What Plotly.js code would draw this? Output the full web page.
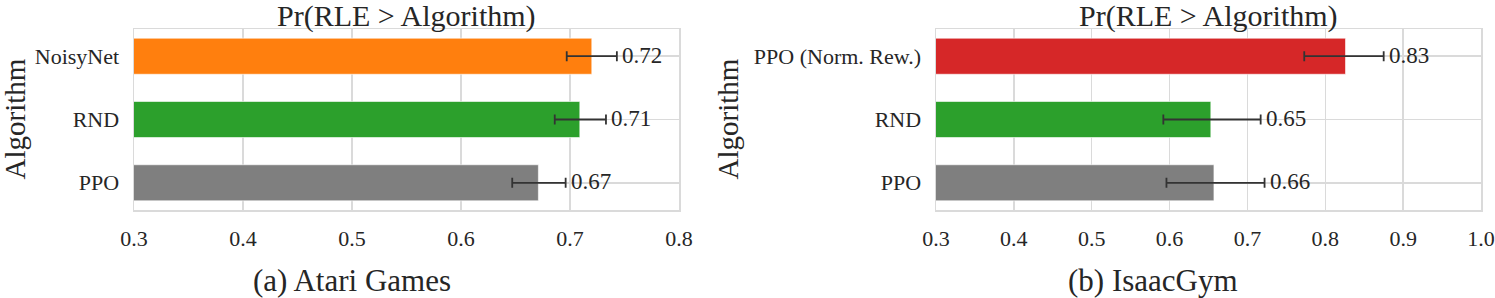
<!DOCTYPE html>
<html>
<head>
<meta charset="utf-8">
<script src="https://cdn.plot.ly/plotly-3.0.1.min.js"></script>
<style>html,body{margin:0;padding:0;background:#fff;}#chart{width:1495px;height:298px;}</style>
</head>
<body>
<div id="chart"></div>
<script>
// ---- data ----
const atariAlgorithms = ['PPO', 'RND', 'NoisyNet'];
const atariValues = [0.671, 0.709, 0.720];
const atariErrPlus = [0.025, 0.024, 0.023];
const atariErrMinus = [0.024, 0.023, 0.023];

const isaacAlgorithms = ['PPO', 'RND', 'PPO (Norm. Rew.)'];
const isaacValues = [0.657, 0.653, 0.826];
const isaacErrPlus = [0.065, 0.064, 0.049];
const isaacErrMinus = [0.061, 0.061, 0.053];

const panelTitle = 'Pr(RLE &gt; Algorithm)';
const yTitle = 'Algorithm';
const subTitles = ['(a) Atari Games', '(b) IsaacGym'];
const atariTicks = [0.3, 0.4, 0.5, 0.6, 0.7, 0.8];
const isaacTicks = [0.3, 0.4, 0.5, 0.6, 0.7, 0.8, 0.9, 1.0];

// ---- styles ----
const colorMap = {
  'PPO': '#7f7f7f',
  'RND': '#2ca02c',
  'NoisyNet': '#ff7f0e',
  'PPO (Norm. Rew.)': '#d62728'
};
const FONT = 'Liberation Serif';
const GRID = '#dadada';
const TXT = '#262626';

function barTrace(cats, vals, ep, em, xa, ya) {
  return {
    type: 'bar', orientation: 'h',
    y: cats, x: vals, xaxis: xa, yaxis: ya,
    width: 0.57,
    marker: {color: cats.map(c => colorMap[c]), line: {color: 'rgba(255,255,255,0.6)', width: 1}},
    error_x: {type: 'data', symmetric: false, array: ep, arrayminus: em,
              color: '#333333', thickness: 1.8, width: 5},
    hoverinfo: 'skip', showlegend: false
  };
}

const traces = [
  barTrace(atariAlgorithms, atariValues, atariErrPlus, atariErrMinus, 'x', 'y'),
  barTrace(isaacAlgorithms, isaacValues, isaacErrPlus, isaacErrMinus, 'x2', 'y2')
];

const annotations = [];
function valueLabels(cats, vals, ep, xref, yref) {
  cats.forEach((c, i) => {
    annotations.push({
      xref: xref, yref: yref, x: vals[i] + ep[i], y: c,
      text: vals[i].toFixed(2), showarrow: false,
      xanchor: 'left', yanchor: 'middle', xshift: 3, yshift: 1,
      font: {family: FONT, size: 23, color: TXT}
    });
  });
}
valueLabels(atariAlgorithms, atariValues, atariErrPlus, 'x', 'y');
valueLabels(isaacAlgorithms, isaacValues, isaacErrPlus, 'x2', 'y2');

const domL = [134 / 1495, 679 / 1495];
const domR = [936 / 1495, 1481 / 1495];
const domY = [1 - 210 / 298, 1 - 29 / 298];

// panel titles
[domL, domR].forEach(d => {
  annotations.push({
    xref: 'paper', yref: 'paper', x: (d[0] + d[1]) / 2, y: 1 - 16 / 298,
    text: panelTitle, showarrow: false, xanchor: 'center', yanchor: 'middle',
    font: {family: FONT, size: 30, color: TXT}
  });
});
// sub-figure captions
[[352, 0], [1153, 1]].forEach(([px, k]) => {
  annotations.push({
    xref: 'paper', yref: 'paper', x: px / 1495, y: 1 - 280 / 298,
    text: subTitles[k], showarrow: false, xanchor: 'center', yanchor: 'middle',
    font: {family: FONT, size: 31, color: TXT}
  });
});
// y-axis titles
[[14, 0], [727, 1]].forEach(([px]) => {
  annotations.push({
    xref: 'paper', yref: 'paper', x: px / 1495, y: (domY[0] + domY[1]) / 2,
    text: yTitle, showarrow: false, textangle: -90,
    xanchor: 'center', yanchor: 'middle',
    font: {family: FONT, size: 29, color: TXT}
  });
});

function xAxis(dom, ticks, anchor) {
  return {
    domain: dom, anchor: anchor, range: [ticks[0], ticks[ticks.length - 1]],
    tickvals: ticks, ticktext: ticks.map(t => t.toFixed(1)),
    showgrid: true, gridcolor: GRID, gridwidth: 1.5,
    zeroline: false, showline: true, linecolor: GRID, linewidth: 1.5, mirror: true,
    ticks: '', ticklabelstandoff: 8,
    tickfont: {family: FONT, size: 22, color: TXT}, fixedrange: true
  };
}
function yAxis(cats, anchor) {
  return {
    domain: domY, anchor: anchor, type: 'category',
    categoryorder: 'array', categoryarray: cats, range: [-0.43, 2.43],
    showgrid: true, gridcolor: GRID, gridwidth: 1.5,
    zeroline: false, showline: true, linecolor: GRID, linewidth: 1.5, mirror: true,
    ticks: '', ticklabelstandoff: 9,
    tickfont: {family: FONT, size: 22, color: TXT}, fixedrange: true
  };
}

const layout = {
  width: 1495, height: 298,
  margin: {l: 0, r: 0, t: 0, b: 0},
  paper_bgcolor: '#ffffff', plot_bgcolor: '#ffffff',
  font: {family: FONT, color: TXT},
  xaxis: xAxis(domL, atariTicks, 'y'),
  yaxis: yAxis(atariAlgorithms, 'x'),
  xaxis2: xAxis(domR, isaacTicks, 'y2'),
  yaxis2: yAxis(isaacAlgorithms, 'x2'),
  annotations: annotations,
  bargap: 0
};

Plotly.newPlot('chart', traces, layout, {displayModeBar: false, staticPlot: true});
</script>
</body>
</html>
